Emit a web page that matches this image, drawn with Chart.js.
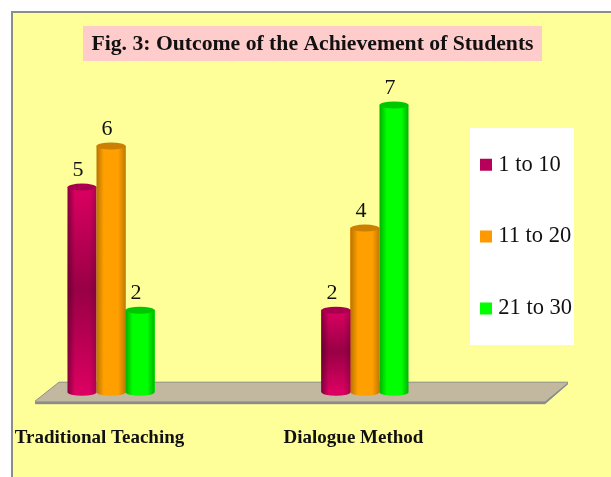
<!DOCTYPE html>
<html>
<head>
<meta charset="utf-8">
<script src="https://cdn.jsdelivr.net/npm/chart.js@4"></script>
<style>
  html, body { margin: 0; padding: 0; background: #fff; overflow: hidden; }
  #panel { position: absolute; left: 11px; top: 11px; width: 600px; height: 466px;
           background: #ffff99; border-left: 2px solid #8c8c8c; border-top: 2px solid #8c8c8c; }
  #chartWrap { position: absolute; left: 0; top: 0; width: 611px; height: 477px; }
</style>
</head>
<body>
<div id="panel"></div>
<div id="chartWrap"><canvas id="achievementChart" width="611" height="477"></canvas></div>
<script>
const categories = ['Traditional Teaching', 'Dialogue Method'];
const seriesNames = ['1 to 10', '11 to 20', '21 to 30'];
const lowScores = [5, 2];
const midScores = [6, 4];
const highScores = [2, 7];
const titleText = 'Fig. 3: Outcome of the Achievement of Students';

const serif = '"Liberation Serif", serif';

// edge, middle, far edge and cap colours of each cylinder
const shades = [
    { edge: '#86003f', mid: '#dc0062', far: '#b00052', cap: '#a8004e', solid: '#b8005a' },
    { edge: '#b87400', mid: '#ff9f00', far: '#c07a00', cap: '#cc7f00', solid: '#ff9900' },
    { edge: '#00b000', mid: '#00ff00', far: '#00b400', cap: '#00c800', solid: '#00ff00' }
];

const chartBackground = {
    id: 'chartBackground',
    afterLayout(chart) {
        // title and legend sit at their own place, not in the padded layout box
        chart.titleBlock.left = 83;
        chart.titleBlock.right = 542;
        const lg = chart.legend;
        lg.left = 435.6;
        lg.right = 574;
        lg.top = 104;
        lg.bottom = 470;
    },
    beforeDraw(chart) {
        const c = chart.ctx;
        c.save();
        c.fillStyle = '#ffcccc';
        c.fillRect(83, 26, 459, 35);
        c.fillStyle = '#ffffff';
        c.fillRect(470, 128, 104, 217);
        c.restore();
    },
    beforeDatasetsDraw(chart) {
        const c = chart.ctx;
        const x0 = chart.scales.x.left;
        const x1 = chart.scales.x.right;
        const y0 = chart.scales.y.getPixelForValue(0);
        c.save();
        // floor slab
        c.beginPath();
        c.moveTo(x0 - 52, y0 - 10);
        c.lineTo(x1 + 203, y0 - 10);
        c.lineTo(x1 + 180, y0 + 9);
        c.lineTo(x0 - 76, y0 + 9);
        c.closePath();
        c.fillStyle = '#c2b8a0';
        c.fill();
        c.strokeStyle = '#8c8c8c';
        c.lineWidth = 1;
        c.beginPath();
        c.moveTo(x0 - 76, y0 + 9);
        c.lineTo(x0 - 52, y0 - 10);
        c.lineTo(x1 + 203, y0 - 10);
        c.stroke();
        // front edge
        c.fillStyle = '#8c8c8c';
        c.fillRect(x0 - 76, y0 + 9, x1 + 180 - x0 + 76, 3);
        c.beginPath();
        c.moveTo(x1 + 180, y0 + 9);
        c.lineTo(x1 + 203, y0 - 10);
        c.lineTo(x1 + 203, y0 - 8);
        c.lineTo(x1 + 180, y0 + 12);
        c.closePath();
        c.fill();
        c.restore();
    },
    afterDatasetsDraw(chart) {
        const c = chart.ctx;
        chart.data.datasets.forEach((ds, d) => {
            const s = shades[d];
            chart.getDatasetMeta(d).data.forEach((bar, i) => {
                const half = bar.width / 2;
                const grad = c.createLinearGradient(bar.x - half, 0, bar.x + half, 0);
                grad.addColorStop(0, s.edge);
                grad.addColorStop(0.25, s.mid);
                grad.addColorStop(0.75, s.mid);
                grad.addColorStop(1, s.far);
                c.save();
                c.fillStyle = grad;
                c.beginPath();
                c.moveTo(bar.x - half, bar.y);
                c.lineTo(bar.x - half, bar.base);
                c.ellipse(bar.x, bar.base, half, 3.5, 0, Math.PI, 0, true);
                c.lineTo(bar.x + half, bar.y);
                c.closePath();
                c.fill();
                if (d === 0) {
                    // the magenta bars darken towards their middle
                    const shade = c.createLinearGradient(0, bar.y, 0, bar.base);
                    shade.addColorStop(0, 'rgba(70,0,35,0)');
                    shade.addColorStop(0.5, 'rgba(70,0,35,0.45)');
                    shade.addColorStop(1, 'rgba(70,0,35,0)');
                    c.fillStyle = shade;
                    c.fillRect(bar.x - half, bar.y, bar.width, bar.base - bar.y);
                }
                c.fillStyle = s.cap;
                c.beginPath();
                c.ellipse(bar.x, bar.y, half, 3.5, 0, 0, Math.PI * 2);
                c.fill();
                // value over the bar
                c.fillStyle = '#111';
                c.font = '22px ' + serif;
                c.textAlign = 'center';
                c.textBaseline = 'middle';
                c.fillText(ds.data[i], bar.x - 4, bar.y - 17);
                c.restore();
            });
        });
    }
};

new Chart(document.getElementById('achievementChart'), {
    type: 'bar',
    data: {
        labels: categories,
        datasets: [
            { label: seriesNames[0], data: lowScores, backgroundColor: shades[0].solid },
            { label: seriesNames[1], data: midScores, backgroundColor: shades[1].solid },
            { label: seriesNames[2], data: highScores, backgroundColor: shades[2].solid }
        ]
    },
    options: {
        responsive: false,
        animation: false,
        layout: { padding: { left: 111, right: 246, top: 0, bottom: -6 } },
        datasets: { bar: { barThickness: 29 } },
        scales: {
            x: {
                offset: false,
                grid: { display: false, drawTicks: false },
                border: { display: false },
                // the long labels should not push the bars inwards
                afterFit(scale) {
                    scale.paddingLeft = 0;
                    scale.paddingRight = 0;
                },
                ticks: {
                    color: '#111',
                    font: { family: serif, size: 19, weight: 'bold' },
                    padding: 34,
                    labelOffset: -11.5,
                    maxRotation: 0,
                    autoSkip: false
                }
            },
            y: {
                display: false,
                min: 0,
                max: 8
            }
        },
        plugins: {
            tooltip: { enabled: false },
            title: {
                display: true,
                text: titleText,
                color: '#111',
                font: { family: serif, size: 21.7, weight: 'bold', lineHeight: 1.2 },
                padding: { top: 31, bottom: 7 }
            },
            legend: {
                position: 'chartArea',
                align: 'start',
                labels: {
                    color: '#111',
                    font: { family: serif, size: 22.5 },
                    boxWidth: 2,
                    boxHeight: 2,
                    padding: 49.4,
                    // thick outline makes up the swatch, so the text can sit close to it
                    generateLabels(chart) {
                        return Chart.defaults.plugins.legend.labels.generateLabels(chart).map((item) => {
                            item.strokeStyle = item.fillStyle;
                            item.lineWidth = 10;
                            return item;
                        });
                    }
                }
            }
        }
    },
    plugins: [chartBackground]
});
</script>
</body>
</html>
